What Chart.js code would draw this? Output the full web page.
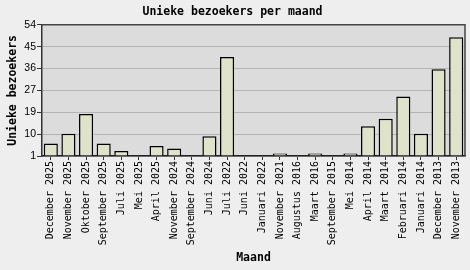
<!DOCTYPE html>
<html lang="nl">
<head>
    <meta charset="UTF-8">
    <title>Unieke bezoekers per maand</title>
    <script src="https://cdn.jsdelivr.net/npm/chart.js"></script>
    <style>
        body {
            margin: 0;
            padding: 0;
            background: #eeeeee;
        }
        canvas {
            display: block;
        }
    </style>
</head>
<body>
    <canvas id="visitsChart" width="470" height="270"></canvas>

    <script>
        // Months (newest first, as in the original)
        const months = [
            "December 2025", "November 2025", "Oktober 2025", "September 2025",
            "Juli 2025", "Mei 2025", "April 2025", "November 2024",
            "September 2024", "Juni 2024", "Juli 2022", "Juni 2022",
            "Januari 2022", "November 2021", "Augustus 2016", "Maart 2016",
            "September 2015", "Mei 2014", "April 2014", "Maart 2014",
            "Februari 2014", "Januari 2014", "December 2013", "November 2013"
        ];
        // Unique visitors per month
        const visitors = [6, 10, 18, 6, 3, 1, 5, 4, 1, 9, 41, 1, 1, 2, 1, 2, 1, 2, 13, 16, 25, 10, 36, 49];

        const yMin = 1;
        const yMax = 54;
        const yTickLabels = ["1", "10", "19", "27", "36", "45", "54"];

        const monoBold = { family: "'DejaVu Sans Mono', monospace", size: 11.5, weight: "bold" };

        // plot background + top/right frame
        const plotFrame = {
            id: "plotFrame",
            beforeDraw(chart) {
                const { ctx, chartArea: a } = chart;
                ctx.save();
                ctx.fillStyle = "#dcdcdc";
                ctx.fillRect(a.left, a.top, a.right - a.left, a.bottom - a.top);
                ctx.restore();
            },
            afterDraw(chart) {
                const { ctx, chartArea: a } = chart;
                ctx.save();
                ctx.strokeStyle = "#444";
                ctx.lineWidth = 1.5;
                ctx.beginPath();
                ctx.moveTo(a.left, a.top);
                ctx.lineTo(a.right, a.top);
                ctx.lineTo(a.right, a.bottom);
                ctx.stroke();
                ctx.restore();
            }
        };

        const ctx = document.getElementById("visitsChart").getContext("2d");
        const chart = new Chart(ctx, {
            type: "bar",
            data: {
                labels: months,
                datasets: [{
                    data: visitors,
                    base: yMin,
                    backgroundColor: "#dfe3ca",
                    borderColor: "#000",
                    borderWidth: 1.5,
                    barPercentage: 0.8,
                    categoryPercentage: 1
                }]
            },
            options: {
                responsive: false,
                animation: false,
                devicePixelRatio: 1,
                layout: { padding: { left: 0, right: 5, top: 0, bottom: 0 } },
                plugins: {
                    legend: { display: false },
                    tooltip: { enabled: false },
                    title: {
                        display: true,
                        text: "Unieke bezoekers per maand",
                        color: "#000",
                        font: monoBold,
                        padding: { top: 5, bottom: 6 }
                    }
                },
                scales: {
                    x: {
                        offset: true,
                        grid: {
                            offset: false,
                            drawOnChartArea: false,
                            tickLength: 4,
                            tickColor: "#333"
                        },
                        border: { color: "#222", width: 1.5 },
                        ticks: {
                            autoSkip: false,
                            minRotation: 90,
                            maxRotation: 90,
                            padding: 1,
                            color: "#000",
                            font: { family: "'DejaVu Sans Mono', monospace", size: 10 }
                        },
                        title: {
                            display: true,
                            text: "Maand",
                            color: "#000",
                            font: monoBold,
                            padding: { top: 0, bottom: 5 }
                        },
                        afterFit(scale) { scale.height = 114; }
                    },
                    y: {
                        min: yMin,
                        max: yMax,
                        afterBuildTicks(scale) {
                            const n = yTickLabels.length;
                            scale.ticks = yTickLabels.map((_, i) => ({ value: yMin + i * (yMax - yMin) / (n - 1) }));
                        },
                        grid: {
                            color: "#b4b4b4",
                            tickLength: 5,
                            tickColor: "#333"
                        },
                        border: { color: "#333", width: 1.5 },
                        ticks: {
                            padding: 1,
                            color: "#000",
                            font: { family: "'Liberation Sans', sans-serif", size: 10.5 },
                            callback: (v, i) => yTickLabels[i]
                        },
                        title: {
                            display: true,
                            text: "Unieke bezoekers",
                            color: "#000",
                            font: monoBold,
                            padding: { top: 6, bottom: 0 }
                        },
                        afterFit(scale) { scale.width = 42; }
                    }
                }
            },
            plugins: [plotFrame]
        });
    </script>
</body>
</html>
